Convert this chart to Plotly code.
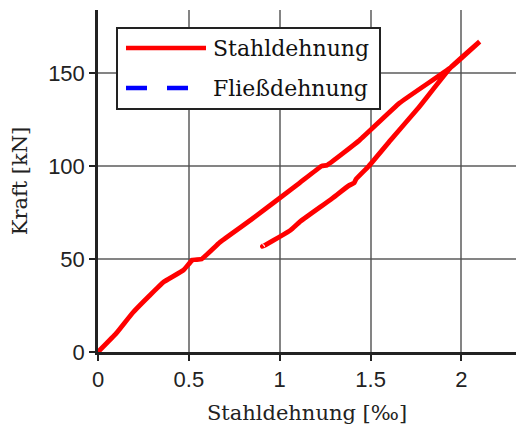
import plotly.graph_objects as go

# Belastung (loading) branch
load_x = [0, 0.1, 0.19, 0.28, 0.36, 0.47, 0.52, 0.57, 0.67, 0.84, 1.11, 1.23, 1.26, 1.44, 1.66, 1.94, 2.1]
load_y = [0, 10, 21, 30, 37.6, 44, 49.5, 50, 59, 71, 91, 100, 100.5, 114, 134, 153, 167]
# Entlastung (unloading) branch
unload_x = [2.1, 1.94, 1.76, 1.61, 1.49, 1.42, 1.41, 1.38, 1.28, 1.11, 1.06, 1.0, 0.92, 0.905, 0.91]
unload_y = [167, 153, 131, 114, 100, 93, 91, 89.5, 82, 70, 65.6, 62, 57.5, 56.8, 57.2]

stahl_x = load_x + unload_x
stahl_y = load_y + unload_y

# Fließdehnung: no visible values in the chart
fliess_x = [None]
fliess_y = [None]

legend_names = ["Stahldehnung", "Fließdehnung"]
colors = ["#ff0000", "#0000ff"]

serif = "DejaVu Serif"
sans = "Liberation Sans"

fig = go.Figure()
fig.add_trace(go.Scatter(x=stahl_x, y=stahl_y, mode="lines", name=legend_names[0],
                         line=dict(color=colors[0], width=4.8, shape="spline", smoothing=0.3),
                         showlegend=False))
fig.add_trace(go.Scatter(x=fliess_x, y=fliess_y, mode="lines", name=legend_names[1],
                         line=dict(color=colors[1], width=4.8, dash="21px,20px"),
                         showlegend=False))

# plot area: x 98..516 px, y 10..352 px
L, R, T, B = 98, 516, 10, 352
def px(x):
    return (x - L) / (R - L)
def py(y):
    return (B - y) / (B - T)

# legend box (drawn as a boxed key)
fig.add_shape(type="rect", xref="paper", yref="paper",
              x0=px(117), x1=px(380), y0=py(109), y1=py(28),
              fillcolor="white", line=dict(color="#222", width=2), layer="above")
rows = [48, 88]
dashes = ["solid", "21px,20px"]
for name, c, d, r in zip(legend_names, colors, dashes, rows):
    fig.add_shape(type="line", xref="paper", yref="paper",
                  x0=px(126), x1=px(206), y0=py(r), y1=py(r),
                  line=dict(color=c, width=4.5, dash=d), layer="above")
    fig.add_annotation(text=name, xref="paper", yref="paper", x=px(211), y=py(r),
                       xanchor="left", yanchor="middle", showarrow=False,
                       font=dict(family=serif, size=22, color="#111"))

axis_common = dict(showgrid=True, gridcolor="rgba(80,80,80,0.7)", gridwidth=2,
                   showline=True, linecolor="#222", linewidth=2.5,
                   ticks="outside", ticklen=6, tickwidth=2, tickcolor="#222",
                   zeroline=False, automargin=False,
                   tickfont=dict(family=sans, size=22, color="#222"))

fig.update_layout(
    width=516, height=427,
    margin=dict(l=L, r=516 - R, t=T, b=427 - B),
    paper_bgcolor="white", plot_bgcolor="white",
    showlegend=False,
    xaxis=dict(range=[0, 2.30], tickvals=[0, 0.5, 1, 1.5, 2], ticktext=["0", "0.5", "1", "1.5", "2"],
               title=dict(text="Stahldehnung [‰]", font=dict(family=serif, size=21, color="#222")),
               **axis_common),
    yaxis=dict(range=[0, 184], tickvals=[0, 50, 100, 150],
               title=dict(text="Kraft [kN]", font=dict(family=serif, size=21, color="#222")),
               **axis_common),
)

fig.write_html("out.html", config={"displayModeBar": False},
               post_script="document.body.style.margin='0';document.body.style.overflow='hidden';")
